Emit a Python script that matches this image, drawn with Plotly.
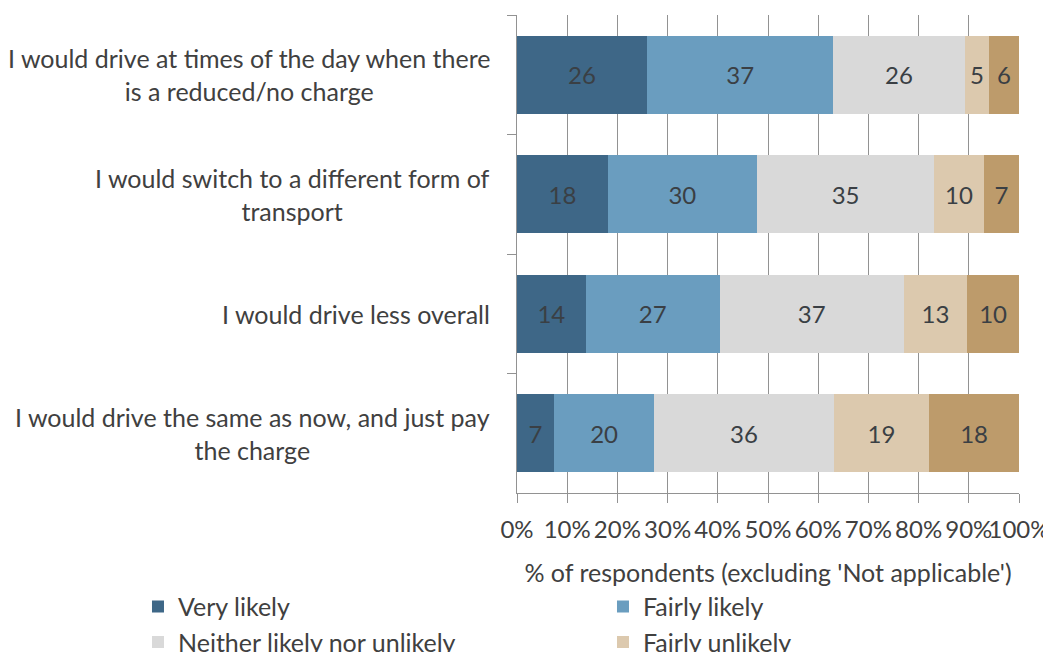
import plotly.graph_objects as go

# statements, top to bottom
statements = [
    "I would drive at times of the day when there<br>is a reduced/no charge",
    "I would switch to a different form of<br>transport",
    "I would drive less overall",
    "I would drive the same as now, and just pay<br>the charge",
]

# % of respondents per answer, one value per statement
very_likely = [25.9, 18.1, 13.7, 7.4]
fairly_likely = [37.1, 29.7, 26.7, 19.9]
neither = [26.2, 35.3, 36.6, 35.8]
fairly_unlikely = [4.8, 9.9, 12.7, 19.0]
very_unlikely = [6.0, 7.0, 10.3, 17.9]

x_ticks = [0, 10, 20, 30, 40, 50, 60, 70, 80, 90, 100]
x_tick_labels = ["%d%%" % t for t in x_ticks]

FONT = "Lato, 'Open Sans', sans-serif"
TEXT_COLOR = "#404040"
GRID_COLOR = "#929292"

series = [
    ("Very likely", very_likely, "#3e6787"),
    ("Fairly likely", fairly_likely, "#6a9dbf"),
    ("Neither likely nor unlikely", neither, "#d9d9d9"),
    ("Fairly unlikely", fairly_unlikely, "#dcc9ae"),
    ("Very unlikely", very_unlikely, "#bd9b6b"),
]

fig = go.Figure()
for name, values, color in series:
    fig.add_trace(go.Bar(
        name=name,
        y=statements,
        x=values,
        orientation="h",
        marker=dict(color=color, line=dict(width=0)),
        texttemplate="%{x:.0f}",
        textposition="inside",
        insidetextanchor="middle",
        textangle=0,
        constraintext="none",
        textfont=dict(family=FONT, size=24, color="#3a3f44"),
        hoverinfo="name+x",
    ))

# category labels as annotations so the lines can be centred
for s in statements:
    fig.add_annotation(
        x=0, xref="paper", y=s, yref="y",
        text=s, showarrow=False,
        xanchor="right", xshift=-25, align="center",
        font=dict(family=FONT, size=25, color=TEXT_COLOR),
    )

# the page body adds ~8px offset, margins compensate for it
fig.update_layout(
    barmode="stack",
    bargap=0.35,
    width=1051,
    height=652,
    margin=dict(l=509, r=40, t=7, b=167, autoexpand=False),
    paper_bgcolor="white",
    plot_bgcolor="white",
    font=dict(family=FONT, size=25, color=TEXT_COLOR),
    legend=dict(
        orientation="h",
        x=-0.755, xanchor="left",
        y=-0.19, yanchor="top",
        entrywidth=420,
        traceorder="normal",
        font=dict(family=FONT, size=25, color=TEXT_COLOR),
        itemclick=False,
    ),
    showlegend=True,
)

fig.update_xaxes(
    range=[0, 100],
    tickvals=x_ticks,
    ticktext=x_tick_labels,
    tickangle=0,
    showgrid=True,
    gridcolor=GRID_COLOR,
    gridwidth=1,
    showline=True,
    linecolor=GRID_COLOR,
    linewidth=1,
    ticks="outside",
    ticklen=9,
    tickcolor=GRID_COLOR,
    ticklabelstandoff=6,
    zeroline=False,
    title=dict(text="% of respondents (excluding 'Not applicable')", standoff=22,
               font=dict(family=FONT, size=25, color=TEXT_COLOR)),
    tickfont=dict(family=FONT, size=24, color=TEXT_COLOR),
)

fig.update_yaxes(
    type="category",
    categoryorder="array",
    categoryarray=statements,
    autorange="reversed",
    showticklabels=False,
    showgrid=False,
    showline=True,
    linecolor=GRID_COLOR,
    linewidth=1,
    ticks="outside",
    tickson="boundaries",
    ticklen=9,
    tickcolor=GRID_COLOR,
)

fig.write_html("out.html")
